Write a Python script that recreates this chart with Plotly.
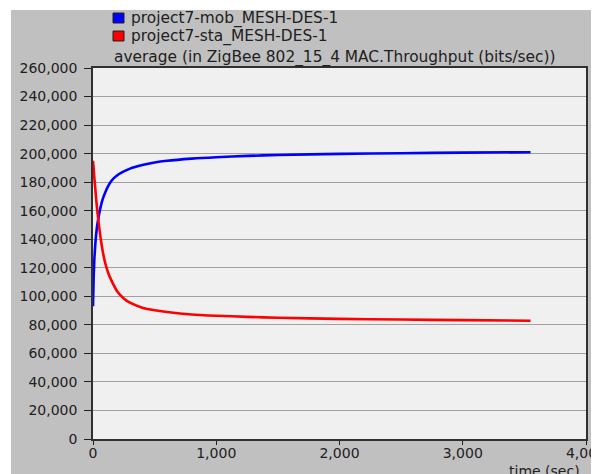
import plotly.graph_objects as go

# ---- data ----
time_s = [0, 5, 10, 20, 30, 40, 60, 80, 100, 125, 150, 200, 250, 300, 400, 500,
          600, 800, 1000, 1250, 1500, 2000, 2500, 3000, 3550]
mob = [93000, 112000, 124000, 138000, 147000, 153000, 162000, 168500, 173000,
       177500, 181000, 185000, 187500, 189500, 192000, 193800, 195000, 196500,
       197500, 198400, 199000, 199800, 200300, 200700, 201000]
sta = [195000, 190000, 184000, 174000, 164000, 156000, 142000, 131000, 123000,
       116000, 111000, 103000, 98500, 95500, 92000, 90200, 89000, 87300, 86400,
       85600, 85000, 84200, 83700, 83300, 82900]
series_names = ["project7-mob_MESH-DES-1", "project7-sta_MESH-DES-1"]
series_colors = ["#0000ff", "#ff0000"]
title_text = "average (in ZigBee 802_15_4 MAC.Throughput (bits/sec))"
x_title = "time (sec)"

W, H = 599, 474
OFF = 8  # page body margin
L, R, T, B = 85, 21, 60, 43
pw, ph = W - L - R, H - T - B


def px(sx):
    return (sx - OFF - L) / pw


def py(sy):
    return (H - B - (sy - OFF)) / ph


FONT = "DejaVu Sans"
TXT = "#202020"

fig = go.Figure()
for name, vals, col in zip(series_names, [mob, sta], series_colors):
    fig.add_trace(go.Scatter(x=time_s, y=vals, mode="lines", name=name,
                             line=dict(color=col, width=2.6, shape="spline",
                                       smoothing=0.7),
                             showlegend=False))

shapes = [
    dict(type="rect", xref="paper", yref="paper", x0=px(OFF), x1=px(11),
         y0=py(H + OFF), y1=py(OFF), fillcolor="white", line_width=0, layer="below"),
    dict(type="rect", xref="paper", yref="paper", x0=px(OFF), x1=px(W + OFF),
         y0=py(10), y1=py(OFF), fillcolor="white", line_width=0, layer="below"),
]
annotations = []
for i, (name, col) in enumerate(zip(series_names, series_colors)):
    cy = 18 + 18 * i
    shapes.append(dict(type="rect", xref="paper", yref="paper",
                       x0=px(113), x1=px(124), y0=py(cy + 5), y1=py(cy - 5),
                       fillcolor=col, line=dict(color=TXT, width=1)))
    annotations.append(dict(text=name, xref="paper", yref="paper",
                            x=px(129), y=py(cy), xanchor="left", yanchor="middle",
                            showarrow=False, font=dict(family=FONT, size=15.4, color=TXT)))

annotations.append(dict(text=title_text, xref="paper", yref="paper",
                        x=px(112), y=py(57), xanchor="left", yanchor="middle",
                        showarrow=False, font=dict(family=FONT, size=15.4, color=TXT)))
annotations.append(dict(text=x_title, xref="paper", yref="paper",
                        x=px(544), y=py(471), xanchor="center", yanchor="middle",
                        showarrow=False, font=dict(family=FONT, size=14, color=TXT)))

fig.update_layout(
    width=W, height=H,
    margin=dict(l=L, r=R, t=T, b=B, autoexpand=False),
    paper_bgcolor="#c0c0c0",
    plot_bgcolor="#f0f0f0",
    font=dict(family=FONT, size=14, color=TXT),
    showlegend=False,
    shapes=shapes,
    annotations=annotations,
    xaxis=dict(range=[0, 4000], dtick=1000, tick0=0, tickformat=",d",
               showgrid=False, zeroline=False, showline=True, mirror=True,
               linecolor="#303030", linewidth=1.5, ticks="outside", ticklen=4,
               tickcolor=TXT, automargin=False, ticklabelstandoff=-4),
    yaxis=dict(range=[0, 260000], dtick=20000, tick0=0, tickformat=",d",
               showgrid=True, gridcolor="#a0a0a0", gridwidth=1,
               zeroline=False, showline=True, mirror=True,
               linecolor="#303030", linewidth=1.5, ticks="outside", ticklen=7,
               tickcolor=TXT, automargin=False, ticklabelstandoff=4),
)

fig.write_html("out.html")
